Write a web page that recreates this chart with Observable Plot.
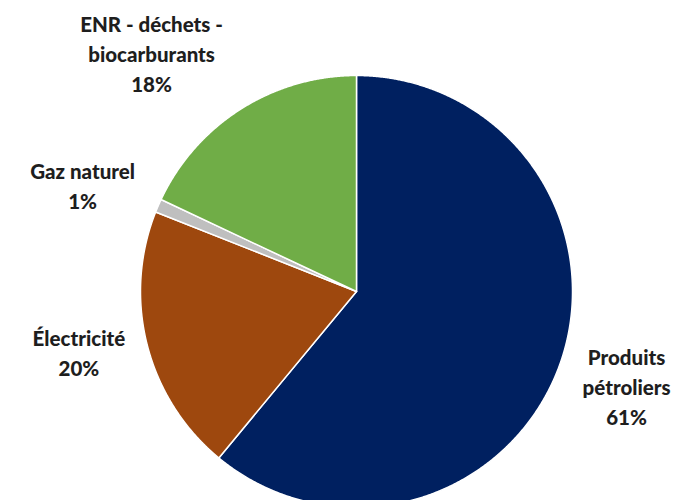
<!DOCTYPE html>
<html><head><meta charset="utf-8">
<script src="https://cdn.jsdelivr.net/npm/d3@7"></script>
<script src="https://cdn.jsdelivr.net/npm/@observablehq/plot@0.6"></script>
<style>html,body{margin:0;padding:0;background:#fff;overflow:hidden}</style>
</head><body><div id="chart"></div>
<script>
// ---- data ----
const categories = ["Produits pétroliers", "Électricité", "Gaz naturel", "ENR - déchets - biocarburants"];
const labelLines = ["Produits\npétroliers", "Électricité", "Gaz naturel", "ENR - déchets -\nbiocarburants"];
const shares = [61, 20, 1, 18];
const colors = ["#002060", "#9E480E", "#BFBFBF", "#70AD47"];

// ---- layout ----
const W = 682, H = 500, cx = 356, cy = 291, R = 216;
// label placement: [radius factor, angle nudge in degrees] relative to slice mid-angle
const labelPolar = [[1.324, -0.6], [1.315, 2.2], [1.361, -2.1], [1.458, -8.2]];

const arcs = d3.pie().sort(null).value(d => d)(shares);

const slicePts = [];
arcs.forEach((a, i) => {
  const n = Math.max(2, Math.ceil((a.endAngle - a.startAngle) / (Math.PI / 720)));
  slicePts.push({k: categories[i], x: 0, y: 0});
  for (let j = 0; j <= n; j++) {
    const t = a.startAngle + (a.endAngle - a.startAngle) * j / n;
    slicePts.push({k: categories[i], x: Math.sin(t), y: Math.cos(t)});
  }
  slicePts.push({k: categories[i], x: 0, y: 0});
});

const labelData = arcs.map((a, i) => {
  const mid = (a.startAngle + a.endAngle) / 2 + labelPolar[i][1] * Math.PI / 180;
  const r = labelPolar[i][0];
  return {x: r * Math.sin(mid), y: r * Math.cos(mid), text: `${labelLines[i]}\n${shares[i]}%`};
});

const chart = Plot.plot({
  width: W, height: H,
  margin: 0,
  x: {domain: [-cx / R, (W - cx) / R], axis: null},
  y: {domain: [-(H - cy) / R, cy / R], axis: null},
  color: {domain: categories, range: colors},
  style: {background: "#fff"},
  marks: [
    Plot.line(slicePts, {x: "x", y: "y", z: "k", fill: "k", stroke: "#fff", strokeWidth: 1.5, strokeLinejoin: "round", curve: "linear"}),
    Plot.text(labelData, {x: "x", y: "y", text: "text", lineAnchor: "middle", textAnchor: "middle",
      fontSize: 20.5, lineHeight: 1.46, fontWeight: 900, fontFamily: "Lato, 'Open Sans', sans-serif", fill: "#1e1e1e",
      letterSpacing: "-0.2px"})
  ]
});
document.getElementById("chart").appendChild(chart);
</script>
</body></html>
